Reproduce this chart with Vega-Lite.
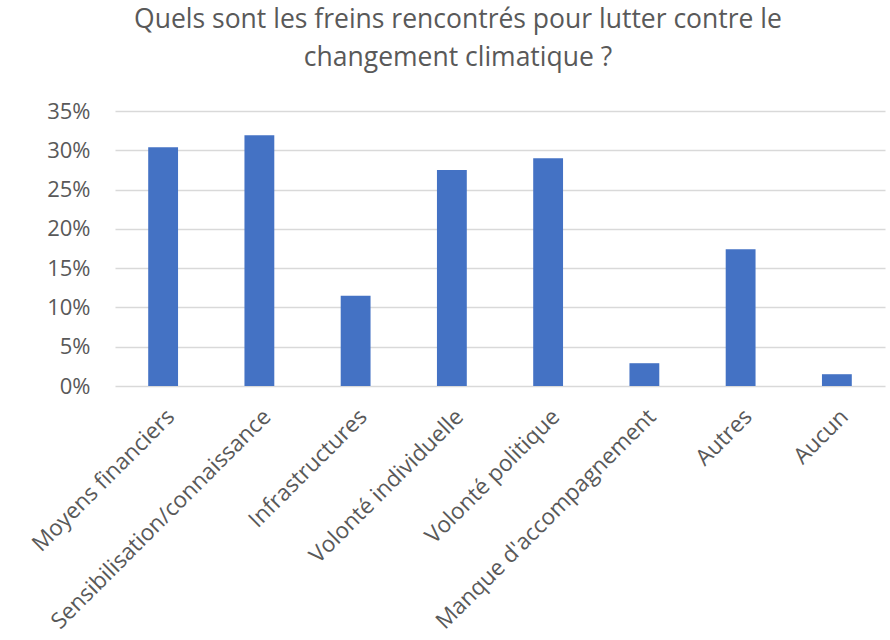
{
  "$schema": "https://vega.github.io/schema/vega-lite/v6.json",
  "autosize": {"type": "none"},
  "width": 770,
  "height": 275,
  "padding": {"left": 115, "top": 111, "right": 5, "bottom": 254},
  "background": "white",
  "title": {
    "text": ["Quels sont les freins rencontrés pour lutter contre le", "changement climatique ?"],
    "font": "Open Sans",
    "fontSize": 26.5,
    "fontWeight": "normal",
    "color": "#595959",
    "lineHeight": 38,
    "anchor": "middle",
    "dx": -42,
    "offset": 29
  },
  "data": {
    "values": [
      {"frein": "Moyens financiers", "pct": 0.304},
      {"frein": "Sensibilisation/connaissance", "pct": 0.319},
      {"frein": "Infrastructures", "pct": 0.115},
      {"frein": "Volonté individuelle", "pct": 0.275},
      {"frein": "Volonté politique", "pct": 0.290},
      {"frein": "Manque d'accompagnement", "pct": 0.029},
      {"frein": "Autres", "pct": 0.174},
      {"frein": "Aucun", "pct": 0.015}
    ]
  },
  "mark": {"type": "bar", "color": "#4472C4"},
  "encoding": {
    "x": {
      "field": "frein",
      "type": "nominal",
      "sort": null,
      "scale": {"paddingInner": 0.69, "paddingOuter": 0.345},
      "axis": {
        "title": null,
        "labelAngle": -45,
        "labelFont": "Open Sans",
        "labelFontSize": 22.5,
        "labelColor": "#595959",
        "labelPadding": 19,
        "ticks": false,
        "domain": false,
        "labelLimit": 400
      }
    },
    "y": {
      "field": "pct",
      "type": "quantitative",
      "scale": {"domain": [0, 0.35]},
      "axis": {
        "title": null,
        "format": ".0%",
        "values": [0, 0.05, 0.1, 0.15, 0.2, 0.25, 0.3, 0.35],
        "labelFont": "Open Sans",
        "labelFontSize": 22,
        "labelColor": "#595959",
        "labelPadding": 25,
        "ticks": false,
        "domain": false,
        "gridColor": "#d9d9d9",
        "gridWidth": 1.5
      }
    }
  },
  "config": {"view": {"stroke": null}}
}
